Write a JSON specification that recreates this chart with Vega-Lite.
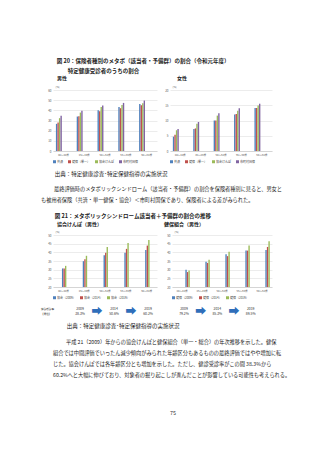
{
  "$schema": "https://vega.github.io/schema/vega-lite/v6.json",
  "background": "white",
  "padding": {"left": 41, "top": 59, "right": 0, "bottom": 0},
  "spacing": 7,
  "resolve": {"scale": {"color": "independent"}, "legend": {"color": "independent"}},
  "datasets": {
    "fig20": [
      {"sex": "男性", "age": "40～44歳", "s": "共済", "v": 26.7},
      {"sex": "男性", "age": "40～44歳", "s": "健保（単一）", "v": 28.0},
      {"sex": "男性", "age": "40～44歳", "s": "協会けんぽ", "v": 32.3},
      {"sex": "男性", "age": "40～44歳", "s": "市町村国保", "v": 34.6},
      {"sex": "男性", "age": "45～49歳", "s": "共済", "v": 33.9},
      {"sex": "男性", "age": "45～49歳", "s": "健保（単一）", "v": 34.2},
      {"sex": "男性", "age": "45～49歳", "s": "協会けんぽ", "v": 37.8},
      {"sex": "男性", "age": "45～49歳", "s": "市町村国保", "v": 39.5},
      {"sex": "男性", "age": "50～54歳", "s": "共済", "v": 40.1},
      {"sex": "男性", "age": "50～54歳", "s": "健保（単一）", "v": 39.1},
      {"sex": "男性", "age": "50～54歳", "s": "協会けんぽ", "v": 43.4},
      {"sex": "男性", "age": "50～54歳", "s": "市町村国保", "v": 44.7},
      {"sex": "男性", "age": "55～59歳", "s": "共済", "v": 43.4},
      {"sex": "男性", "age": "55～59歳", "s": "健保（単一）", "v": 42.1},
      {"sex": "男性", "age": "55～59歳", "s": "協会けんぽ", "v": 45.3},
      {"sex": "男性", "age": "55～59歳", "s": "市町村国保", "v": 47.3},
      {"sex": "男性", "age": "60～64歳", "s": "共済", "v": 46.3},
      {"sex": "男性", "age": "60～64歳", "s": "健保（単一）", "v": 45.0},
      {"sex": "男性", "age": "60～64歳", "s": "協会けんぽ", "v": 47.0},
      {"sex": "男性", "age": "60～64歳", "s": "市町村国保", "v": 49.6},
      {"sex": "女性", "age": "40～44歳", "s": "共済", "v": 4.7},
      {"sex": "女性", "age": "40～44歳", "s": "健保（単一）", "v": 5.3},
      {"sex": "女性", "age": "40～44歳", "s": "協会けんぽ", "v": 6.8},
      {"sex": "女性", "age": "40～44歳", "s": "市町村国保", "v": 7.2},
      {"sex": "女性", "age": "45～49歳", "s": "共済", "v": 7.2},
      {"sex": "女性", "age": "45～49歳", "s": "健保（単一）", "v": 7.4},
      {"sex": "女性", "age": "45～49歳", "s": "協会けんぽ", "v": 8.9},
      {"sex": "女性", "age": "45～49歳", "s": "市町村国保", "v": 9.5},
      {"sex": "女性", "age": "50～54歳", "s": "共済", "v": 10.0},
      {"sex": "女性", "age": "50～54歳", "s": "健保（単一）", "v": 10.0},
      {"sex": "女性", "age": "50～54歳", "s": "協会けんぽ", "v": 11.6},
      {"sex": "女性", "age": "50～54歳", "s": "市町村国保", "v": 12.4},
      {"sex": "女性", "age": "55～59歳", "s": "共済", "v": 12.0},
      {"sex": "女性", "age": "55～59歳", "s": "健保（単一）", "v": 12.1},
      {"sex": "女性", "age": "55～59歳", "s": "協会けんぽ", "v": 13.2},
      {"sex": "女性", "age": "55～59歳", "s": "市町村国保", "v": 14.0},
      {"sex": "女性", "age": "60～64歳", "s": "共済", "v": 14.1},
      {"sex": "女性", "age": "60～64歳", "s": "健保（単一）", "v": 14.1},
      {"sex": "女性", "age": "60～64歳", "s": "協会けんぽ", "v": 14.9},
      {"sex": "女性", "age": "60～64歳", "s": "市町村国保", "v": 15.5}
    ],
    "fig21": [
      {"ins": "協会", "age": "40～44歳", "s": "協会（2009）", "v": 30.7},
      {"ins": "協会", "age": "40～44歳", "s": "協会（2014）", "v": 30.7},
      {"ins": "協会", "age": "40～44歳", "s": "協会（2019）", "v": 32.2},
      {"ins": "協会", "age": "45～49歳", "s": "協会（2009）", "v": 34.9},
      {"ins": "協会", "age": "45～49歳", "s": "協会（2014）", "v": 36.0},
      {"ins": "協会", "age": "45～49歳", "s": "協会（2019）", "v": 38.0},
      {"ins": "協会", "age": "50～54歳", "s": "協会（2009）", "v": 38.3},
      {"ins": "協会", "age": "50～54歳", "s": "協会（2014）", "v": 39.7},
      {"ins": "協会", "age": "50～54歳", "s": "協会（2019）", "v": 43.1},
      {"ins": "協会", "age": "55～59歳", "s": "協会（2009）", "v": 39.7},
      {"ins": "協会", "age": "55～59歳", "s": "協会（2014）", "v": 42.0},
      {"ins": "協会", "age": "55～59歳", "s": "協会（2019）", "v": 45.4},
      {"ins": "協会", "age": "60～64歳", "s": "協会（2009）", "v": 41.4},
      {"ins": "協会", "age": "60～64歳", "s": "協会（2014）", "v": 43.9},
      {"ins": "協会", "age": "60～64歳", "s": "協会（2019）", "v": 47.1},
      {"ins": "健保", "age": "40～44歳", "s": "健保（2009）", "v": 29.9},
      {"ins": "健保", "age": "40～44歳", "s": "健保（2014）", "v": 28.6},
      {"ins": "健保", "age": "40～44歳", "s": "健保（2019）", "v": 29.5},
      {"ins": "健保", "age": "45～49歳", "s": "健保（2009）", "v": 34.5},
      {"ins": "健保", "age": "45～49歳", "s": "健保（2014）", "v": 33.9},
      {"ins": "健保", "age": "45～49歳", "s": "健保（2019）", "v": 35.7},
      {"ins": "健保", "age": "50～54歳", "s": "健保（2009）", "v": 38.9},
      {"ins": "健保", "age": "50～54歳", "s": "健保（2014）", "v": 37.8},
      {"ins": "健保", "age": "50～54歳", "s": "健保（2019）", "v": 40.4},
      {"ins": "健保", "age": "55～59歳", "s": "健保（2009）", "v": 41.0},
      {"ins": "健保", "age": "55～59歳", "s": "健保（2014）", "v": 41.0},
      {"ins": "健保", "age": "55～59歳", "s": "健保（2019）", "v": 43.9},
      {"ins": "健保", "age": "60～64歳", "s": "健保（2009）", "v": 41.4},
      {"ins": "健保", "age": "60～64歳", "s": "健保（2014）", "v": 43.1},
      {"ins": "健保", "age": "60～64歳", "s": "健保（2019）", "v": 46.4}
    ],
    "annK": [
      {"k": "label", "kind": "label", "t": "健診受診率\n【男性】"},
      {"k": "2009", "kind": "year", "t": "2009\n38.3%"},
      {"k": "a1", "kind": "arrow", "t": "➡"},
      {"k": "2014", "kind": "year", "t": "2014\n50.6%"},
      {"k": "a2", "kind": "arrow", "t": "➡"},
      {"k": "2019", "kind": "year", "t": "2019\n60.2%"}
    ],
    "annH": [
      {"k": "2009", "kind": "year", "t": "2009\n79.2%"},
      {"k": "a1", "kind": "arrow", "t": "➡"},
      {"k": "2014", "kind": "year", "t": "2014\n85.3%"},
      {"k": "a2", "kind": "arrow", "t": "➡"},
      {"k": "2019", "kind": "year", "t": "2019\n89.5%"}
    ],
    "page": [{"p": "75"}]
  },
  "config": {
    "font": "Noto Sans CJK JP",
    "view": {"stroke": null},
    "concat": {"spacing": 8},
    "axis": {"labelFontSize": 3, "labelColor": "#595959", "ticks": false, "domain": false, "grid": true, "gridColor": "#d9d9d9", "gridWidth": 0.5, "labelPadding": 2},
    "axisX": {"domain": true, "domainColor": "#bfbfbf", "domainWidth": 0.5, "grid": false, "labelAngle": 0, "labelFontSize": 2.6, "title": null},
    "axisY": {"titleAngle": 0, "titleAlign": "left", "titleBaseline": "bottom", "titleX": 2, "titleY": -2, "titleFontSize": 2.6, "titleFontWeight": "normal", "titleColor": "#595959"},
    "legend": {"orient": "bottom", "direction": "horizontal", "title": null, "labelFontSize": 3, "labelColor": "#404040", "symbolType": "square", "symbolSize": 9, "symbolStrokeWidth": 0, "columnPadding": 4, "labelOffset": 1, "padding": 0, "offset": 4},
    "title": {"fontSize": 5.5, "fontWeight": "bold", "anchor": "start", "color": "#222222", "subtitleColor": "#222222"},
    "bar": {"strokeWidth": 0}
  },
  "vconcat": [
    {
      "title": {"text": "図 20：保険者種別のメタボ（該当者・予備群）の割合（令和元年度）", "subtitle": "\u200b　　特定健康受診者のうちの割合", "subtitleFontSize": 5.5, "subtitleFontWeight": "bold", "subtitlePadding": 4, "dx": 9, "offset": 2},
      "spacing": 7,
      "resolve": {"scale": {"color": "independent"}, "legend": {"color": "independent"}},
      "hconcat": [
        {
          "title": {"text": "男性", "frame": "group", "dx": 4, "offset": 4, "fontSize": 5},
          "width": 104, "height": 61,
          "data": {"name": "fig20"},
          "transform": [{"filter": "datum.sex === '男性'"}],
          "mark": "bar",
          "encoding": {
            "x": {"field": "age", "type": "nominal", "sort": null, "scale": {"paddingInner": 0.28, "paddingOuter": 0.14}},
            "xOffset": {"field": "s", "type": "nominal", "scale": {"domain": ["共済", "健保（単一）", "協会けんぽ", "市町村国保"], "paddingInner": 0.08}},
            "y": {"field": "v", "type": "quantitative", "scale": {"domain": [0, 60]}, "axis": {"values": [0, 10, 20, 30, 40, 50, 60], "title": "(%)"}},
            "color": {"field": "s", "type": "nominal", "scale": {"domain": ["共済", "健保（単一）", "協会けんぽ", "市町村国保"], "range": ["#4F81BD", "#C0504D", "#9BBB59", "#8064A2"]}}
          }
        },
        {
          "title": {"text": "女性", "frame": "group", "dx": 7, "offset": 4, "fontSize": 5},
          "width": 102, "height": 61,
          "data": {"name": "fig20"},
          "transform": [{"filter": "datum.sex === '女性'"}],
          "mark": "bar",
          "encoding": {
            "x": {"field": "age", "type": "nominal", "sort": null, "scale": {"paddingInner": 0.28, "paddingOuter": 0.14}},
            "xOffset": {"field": "s", "type": "nominal", "scale": {"domain": ["共済", "健保（単一）", "協会けんぽ", "市町村国保"], "paddingInner": 0.08}},
            "y": {"field": "v", "type": "quantitative", "scale": {"domain": [0, 20]}, "axis": {"values": [0, 5, 10, 15, 20], "title": "(%)"}},
            "color": {"field": "s", "type": "nominal", "scale": {"domain": ["共済", "健保（単一）", "協会けんぽ", "市町村国保"], "range": ["#4F81BD", "#C0504D", "#9BBB59", "#8064A2"]}}
          }
        }
      ]
    },
    {
      "title": {"text": "\u200b　　\u2002出典：特定健康診査･特定保健指導の実施状況", "fontWeight": "normal", "fontSize": 5.5, "subtitle": ["\u200b　　\u2002最終評価時のメタボリックシンドローム（該当者・予備群）の割合を保険者種別に見ると、男女と", "も被用者保険（共済・単一健保・協会）＜市町村国保であり、保険者による差がみられた。"], "subtitleFontSize": 5.2, "subtitleLineHeight": 11, "subtitlePadding": 10, "offset": 10},
      "resolve": {"scale": {"color": "independent"}, "legend": {"color": "independent"}},
      "vconcat": [
        {
          "title": {"text": "\u200b　　\u2002図 21：メタボリックシンドローム該当者＋予備群の割合の推移", "fontSize": 5.5, "offset": 3},
          "spacing": 7,
          "resolve": {"scale": {"color": "independent"}, "legend": {"color": "independent"}},
          "hconcat": [
            {
              "spacing": 3,
              "resolve": {"scale": {"color": "independent"}, "legend": {"color": "independent"}},
              "vconcat": [
                {
                  "title": {"text": "協会けんぽ（男性）", "frame": "group", "dx": 4, "offset": 3, "fontSize": 5},
                  "width": 104, "height": 52,
                  "data": {"name": "fig21"},
                  "transform": [{"filter": "datum.ins === '協会'"}],
                  "mark": "bar",
                  "encoding": {
                    "x": {"field": "age", "type": "nominal", "sort": null, "scale": {"paddingInner": 0.28, "paddingOuter": 0.14}},
                    "xOffset": {"field": "s", "type": "nominal", "scale": {"domain": ["協会（2009）", "協会（2014）", "協会（2019）"], "paddingInner": 0.08}},
                    "y": {"field": "v", "type": "quantitative", "scale": {"domain": [20, 50]}, "axis": {"values": [20, 25, 30, 35, 40, 45, 50], "title": "(%)"}},
                    "y2": {"datum": 20},
                    "color": {"field": "s", "type": "nominal", "scale": {"domain": ["協会（2009）", "協会（2014）", "協会（2019）"], "range": ["#4F81BD", "#C0504D", "#9BBB59"]}}
                  }
                },
                {
                  "width": 104, "height": 12,
                  "data": {"name": "annK"},
                  "encoding": {"x": {"field": "k", "type": "nominal", "axis": null, "scale": {"type": "point", "domain": ["label", "2009", "a1", "2014", "a2", "2019"], "padding": 0.56, "align": 0.53}}, "text": {"field": "t"}},
                  "layer": [
                    {"transform": [{"filter": "datum.kind === 'label'"}], "mark": {"type": "text", "align": "left", "dx": -22, "fontSize": 2.6, "lineBreak": "\n", "color": "#333333"}},
                    {"transform": [{"filter": "datum.kind === 'year'"}], "mark": {"type": "text", "fontSize": 3.4, "lineBreak": "\n", "lineHeight": 4.5, "color": "#333333"}},
                    {"transform": [{"filter": "datum.kind === 'arrow'"}], "mark": {"type": "text", "fontSize": 11, "dy": 2.5, "color": "#2F6EBA"}}
                  ]
                }
              ]
            },
            {
              "spacing": 3,
              "resolve": {"scale": {"color": "independent"}, "legend": {"color": "independent"}},
              "vconcat": [
                {
                  "title": {"text": "健保組合（男性）", "frame": "group", "dx": -8, "offset": 3, "fontSize": 5},
                  "width": 100, "height": 52,
                  "data": {"name": "fig21"},
                  "transform": [{"filter": "datum.ins === '健保'"}],
                  "mark": "bar",
                  "encoding": {
                    "x": {"field": "age", "type": "nominal", "sort": null, "scale": {"paddingInner": 0.28, "paddingOuter": 0.14}},
                    "xOffset": {"field": "s", "type": "nominal", "scale": {"domain": ["健保（2009）", "健保（2014）", "健保（2019）"], "paddingInner": 0.08}},
                    "y": {"field": "v", "type": "quantitative", "scale": {"domain": [20, 50]}, "axis": {"values": [20, 25, 30, 35, 40, 45, 50], "title": "(%)"}},
                    "y2": {"datum": 20},
                    "color": {"field": "s", "type": "nominal", "scale": {"domain": ["健保（2009）", "健保（2014）", "健保（2019）"], "range": ["#4F81BD", "#C0504D", "#9BBB59"]}}
                  }
                },
                {
                  "width": 100, "height": 12,
                  "data": {"name": "annH"},
                  "encoding": {"x": {"field": "k", "type": "nominal", "axis": null, "scale": {"type": "point", "domain": ["2009", "a1", "2014", "a2", "2019"], "padding": 1.2, "align": 0.36}}, "text": {"field": "t"}},
                  "layer": [
                    {"transform": [{"filter": "datum.kind === 'year'"}], "mark": {"type": "text", "fontSize": 3.4, "lineBreak": "\n", "lineHeight": 4.5, "color": "#333333"}},
                    {"transform": [{"filter": "datum.kind === 'arrow'"}], "mark": {"type": "text", "fontSize": 11, "dy": 2.5, "color": "#2F6EBA"}}
                  ]
                }
              ]
            }
          ]
        }
      ]
    },
    {
      "title": {"text": "\u200b　　\u2002出典：特定健康診査･特定保健指導の実施状況", "fontWeight": "normal", "fontSize": 5.5, "subtitle": ["\u200b　　\u2002平成 21（2009）年からの協会けんぽと健保組合（単一・総合）の年次推移を示した。健保", "組合では中間評価でいったん減少傾向がみられた年齢区分もあるものの最終評価ではやや増加に転", "じた。協会けんぽでは各年齢区分とも増加を示した。ただし、健診受診率がこの間 38.3%から", "60.2%へと大幅に伸びており、対象者の掘り起こしが進んだことが影響している可能性も考えられる。"], "subtitleFontSize": 5.2, "subtitleLineHeight": 11, "subtitlePadding": 10, "offset": 0},
      "width": 240, "height": 70,
      "data": {"name": "page"},
      "mark": {"type": "text", "fontSize": 5.5, "color": "#333333"},
      "encoding": {"text": {"field": "p"}}
    }
  ]
}
